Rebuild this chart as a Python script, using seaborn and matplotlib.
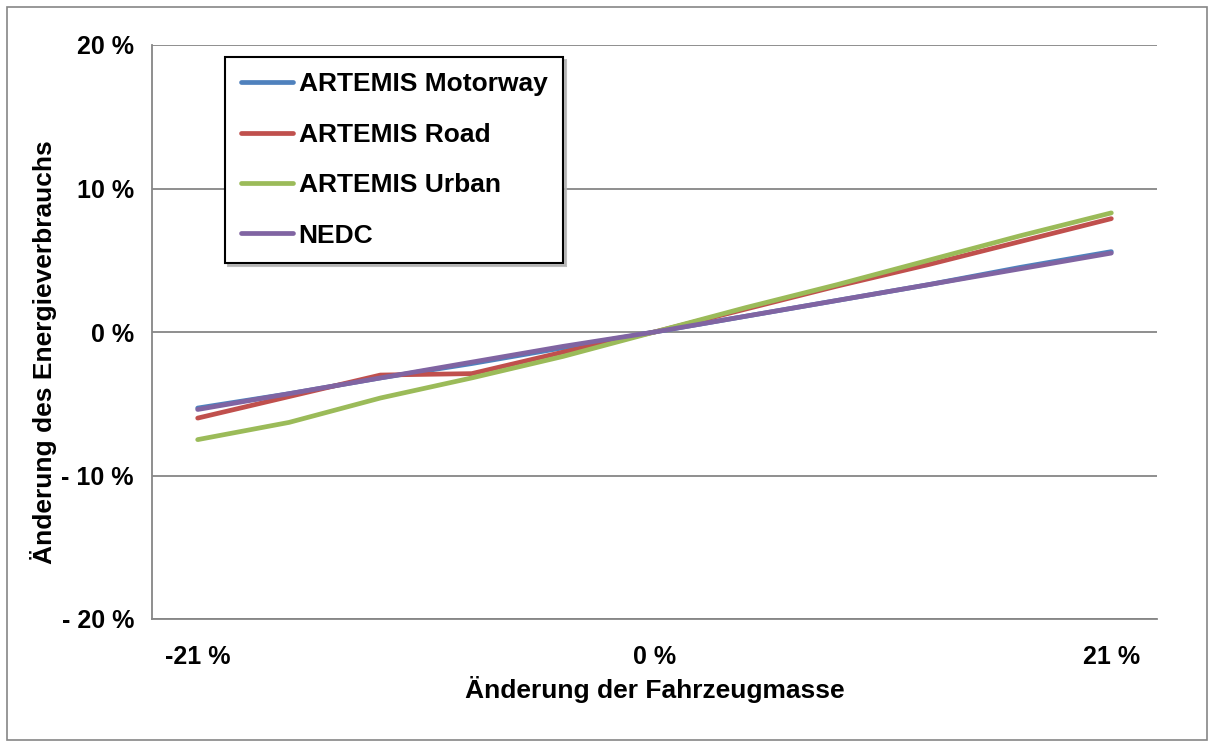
import matplotlib
matplotlib.use("Agg")
import matplotlib.pyplot as plt
from matplotlib.patches import Rectangle
from matplotlib.ticker import FixedLocator
import pandas as pd
import seaborn as sns

# change of vehicle mass in % (category axis, equally spaced)
mass_change = [-21, -16.8, -12.6, -8.4, -4.2, 0, 4.2, 8.4, 12.6, 16.8, 21]

# change of energy consumption in %
motorway = [-5.3, -4.3, -3.2, -2.2, -1.1, 0, 1.1, 2.2, 3.3, 4.5, 5.6]
road = [-6.0, -4.5, -3.0, -2.9, -1.4, 0, 1.6, 3.2, 4.7, 6.3, 7.9]
urban = [-7.5, -6.3, -4.6, -3.2, -1.7, 0, 1.7, 3.3, 5.0, 6.7, 8.3]
nedc = [-5.4, -4.3, -3.2, -2.1, -1.0, 0, 1.1, 2.2, 3.3, 4.4, 5.5]

series_names = ["ARTEMIS Motorway", "ARTEMIS Road", "ARTEMIS Urban", "NEDC"]
series_colors = ["#4F81BD", "#C0504D", "#9BBB59", "#8064A2"]

y_ticks = [-20, -10, 0, 10, 20]
y_ticklabels = ["- 20 %", "- 10 %", "0 %", "10 %", "20 %"]
x_ticks = [-21, 0, 21]
x_ticklabels = ["-21 %", "0 %", "21 %"]

rows = []
for name, vals in zip(series_names, [motorway, road, urban, nedc]):
    for x, v in zip(mass_change, vals):
        rows.append({"mass": x, "energy": v, "cycle": name})
df = pd.DataFrame(rows)

sns.set_style("white")
plt.rcParams["font.family"] = ["Liberation Sans", "DejaVu Sans"]
plt.rcParams["font.weight"] = "bold"
plt.rcParams["text.color"] = "black"
plt.rcParams["axes.labelcolor"] = "black"
plt.rcParams["xtick.labelcolor"] = "black"
plt.rcParams["ytick.labelcolor"] = "black"

fig = plt.figure(figsize=(12.14, 7.47), dpi=100)
ax = fig.add_axes([152 / 1214, 1 - 619 / 747, (1157 - 152) / 1214, (619 - 45) / 747])

sns.lineplot(data=df, x="mass", y="energy", hue="cycle", hue_order=series_names,
             palette=series_colors, linewidth=3.4, ax=ax, legend=True,
             solid_capstyle="round")

ax.set_xlim(-23.1, 23.1)
ax.set_ylim(-20, 20)

ax.set_yticks(y_ticks)
ax.set_yticklabels(y_ticklabels, fontsize=18, fontweight="bold")
ax.set_xticks(x_ticks)
ax.set_xticklabels(x_ticklabels, fontsize=18, fontweight="bold")
step = mass_change[1] - mass_change[0]
bounds = [mass_change[0] - step / 2 + i * step for i in range(len(mass_change) + 1)]
ax.xaxis.set_minor_locator(FixedLocator(bounds))
ax.tick_params(axis="x", which="major", length=0, pad=19)
ax.tick_params(axis="x", which="minor", length=7, width=1.2, color="#868686", direction="out")
ax.tick_params(axis="y", which="major", length=7, width=1.2, color="#868686", direction="out", pad=6)

ax.grid(axis="y", color="#868686", linewidth=1.3)
ax.grid(axis="x", visible=False)
ax.set_axisbelow(True)
for side in ["top", "right"]:
    ax.spines[side].set_visible(False)
for side in ["left", "bottom"]:
    ax.spines[side].set_color("#868686")
    ax.spines[side].set_linewidth(1.3)

ax.set_xlabel("Änderung der Fahrzeugmasse", fontsize=19, fontweight="bold", labelpad=5)
ax.set_ylabel("Änderung des Energieverbrauchs", fontsize=19, fontweight="bold")
ax.yaxis.set_label_coords(-0.095, 0.465)

leg = ax.legend(loc="upper left", bbox_to_anchor=(0.073, 0.979), borderaxespad=0,
                frameon=True, fancybox=False, shadow={"color": "#b0b0b0", "alpha": 0.8},
                edgecolor="black", prop={"size": 19, "weight": "bold"}, handlelength=2.0,
                labelspacing=1.0, handletextpad=0.2, borderpad=0.58)
leg.get_frame().set_linewidth(1.5)
for line in leg.get_lines():
    line.set_linewidth(3.4)
    line.set_solid_capstyle("round")

fig.patches.append(Rectangle((7 / 1214, 7 / 747), 1200 / 1214, 733 / 747, transform=fig.transFigure,
                             fill=False, edgecolor="#868686", linewidth=1.2))

fig.savefig("out.png", dpi=100)
